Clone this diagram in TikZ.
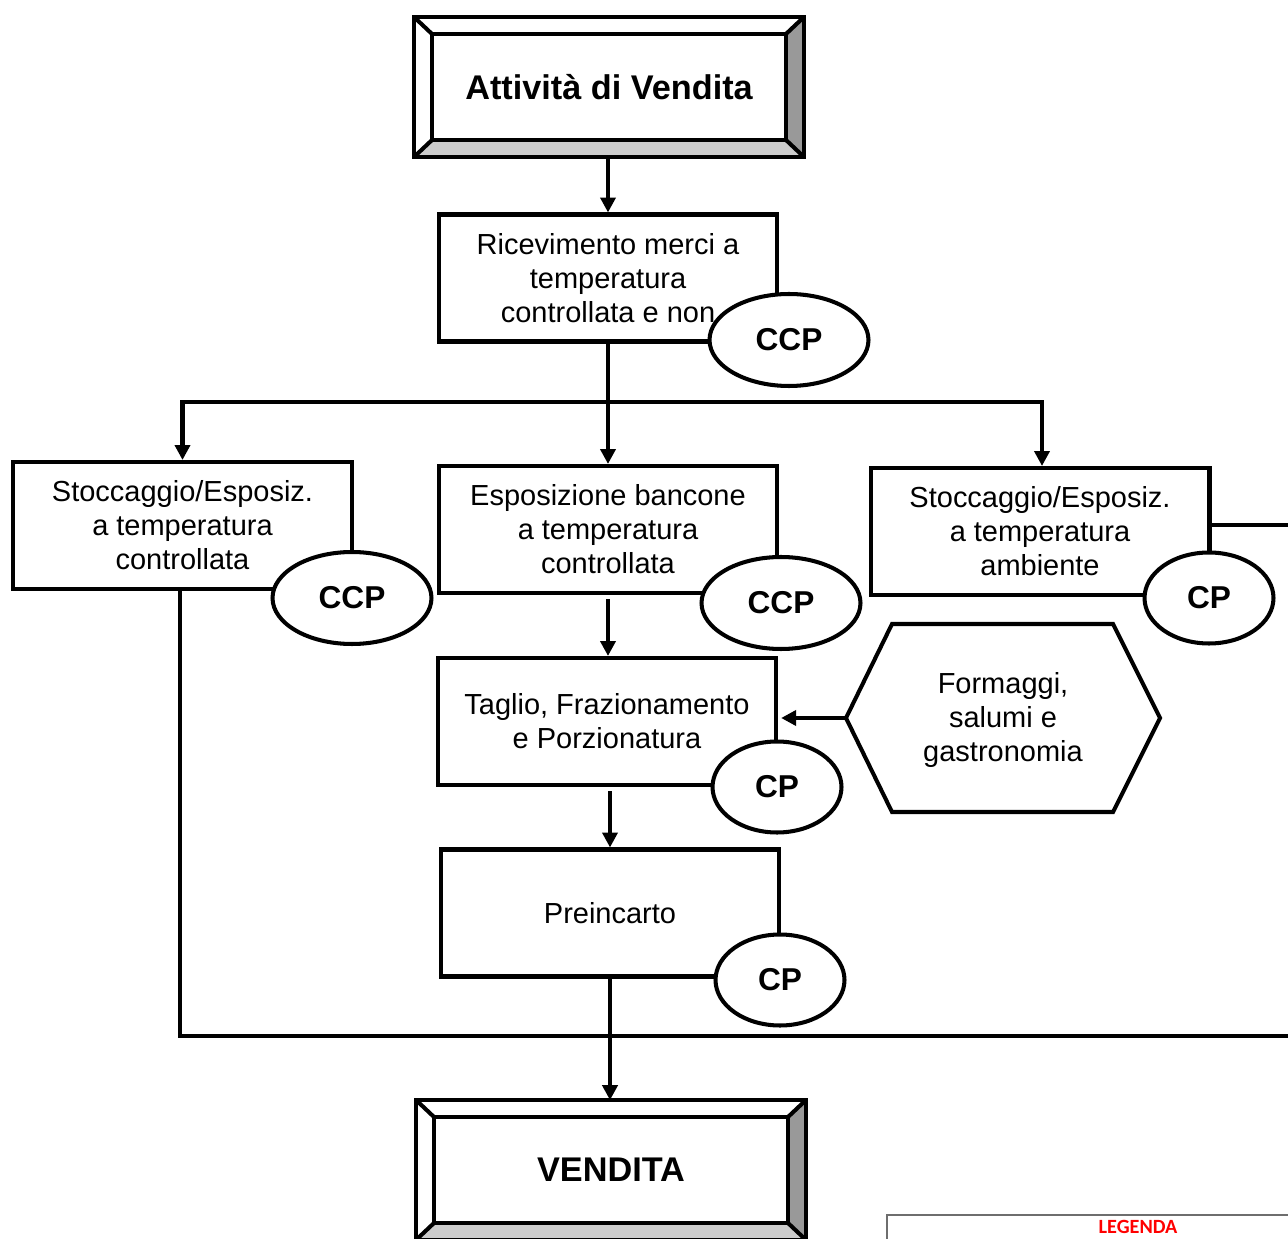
\documentclass[tikz,border=0pt]{standalone}
\usepackage{fontspec}
\setmainfont{Liberation Sans}
\newfontfamily\legendfont{Carlito}
\usetikzlibrary{arrows.meta,shapes.geometric,calc}
\definecolor{bevelgray}{RGB}{153,153,153}
\definecolor{bevellight}{RGB}{204,204,204}
\definecolor{legendred}{RGB}{255,0,0}
\definecolor{legendgray}{RGB}{110,110,110}
\tikzset{
  wire/.style={line width=2.3pt, black},
  arrow/.style={wire, -{Triangle[length=8.5pt,width=8.5pt]}},
  box/.style={rectangle, draw, wire, fill=white, minimum width=6.78cm, minimum height=2.54cm,
              align=center, font=\fontsize{16.5}{19.4}\selectfont},
  bevelbox/.style={rectangle, minimum width=7.78cm, minimum height=2.78cm,
              align=center, font=\fontsize{19.5}{23}\selectfont\bfseries},
  ccp/.style={ellipse, draw, wire, fill=white, minimum width=3.18cm, minimum height=1.84cm,
              inner sep=0pt, font=\fontsize{18}{21}\selectfont\bfseries},
  cp/.style={ccp, minimum width=2.58cm, minimum height=1.82cm},
  plain/.style={align=center, font=\fontsize{16.5}{19.4}\selectfont},
  legendtext/.style={font=\legendfont\fontsize{11.5}{13}\selectfont\bfseries, text=legendred},
}

\begin{document}
\begin{tikzpicture}[x=0.02cm, y=-0.02cm]
\path[use as bounding box, clip] (0,0) rectangle (1288,1239);

% main column
\node[bevelbox] (start) at (609,87) {Attività di Vendita};
\node[box] (rec) at (608,278) {Ricevimento merci a\\temperatura\\controllata e non};
\node[box] (stoc) at (182.5,525.5) {Stoccaggio/Esposiz.\\a temperatura\\controllata};
\node[box] (esp) at (608,529.5) {Esposizione bancone\\a temperatura\\controllata};
\node[box] (amb) at (1040,531.5) {Stoccaggio/Esposiz.\\a temperatura\\ambiente};
\node[box] (tag) at (607,721.5) {Taglio, Frazionamento\\e Porzionatura};
\node[box] (pre) at (610,913) {Preincarto};
\node[bevelbox] (vend) at (611,1170) {VENDITA};

% control points
\node[ccp] (ccp1) at (789,340) {CCP};
\node[ccp] (ccp2) at (352,598) {CCP};
\node[ccp] (ccp3) at (781,603) {CCP};
\node[cp] (cp1) at (1209,598) {CP};
\node[cp] (cp2) at (777,787) {CP};
\node[cp] (cp3) at (780,980) {CP};

% bevelled frames
\foreach \n in {start,vend}{
  \path (\n.north west) ++(18,17) coordinate (\n-inw)
        (\n.north east) ++(-18,17) coordinate (\n-ine)
        (\n.south east) ++(-18,-17) coordinate (\n-ise)
        (\n.south west) ++(18,-17) coordinate (\n-isw);
  \fill[bevelgray] (\n.north east) -- (\n.south east) -- (\n-ise) -- (\n-ine) -- cycle;
  \fill[bevellight] (\n.south west) -- (\n.south east) -- (\n-ise) -- (\n-isw) -- cycle;
  \draw[wire] (\n.north west) rectangle (\n.south east);
  \draw[wire] (\n-inw) rectangle (\n-ise);
  \draw[wire] (\n.north west) -- (\n-inw) (\n.north east) -- (\n-ine)
              (\n.south east) -- (\n-ise) (\n.south west) -- (\n-isw);
}

% hexagon
\node[plain] (hex) at (1003,720) {Formaggi,\\salumi e\\gastronomia};
\coordinate (hexw) at (846,718);
\draw[wire] (892,624) -- (1113,624) -- (1160,718) -- (1113,812) -- (892,812) -- (hexw) -- cycle;

% flow
\coordinate (split) at (608,402);
\coordinate (merge) at (1310,1036);
\draw[arrow] (start.south -| rec.north) -- (rec.north);
\draw[arrow] (rec.south) -- (rec.south |- esp.north);
\draw[arrow] (split) -| (stoc.north);
\draw[arrow] (split) -| ([xshift=0.04cm]amb.north);
\draw[arrow] ([yshift=-0.08cm]esp.south) -- (esp.south |- tag.north);
\draw[arrow] ([xshift=0.06cm,yshift=-0.08cm]tag.south) -- ([xshift=0.06cm]tag.south |- pre.north);
\draw[arrow, shorten >=1.5pt] (hexw) -- (hexw -| tag.east);
\draw[arrow] (pre.south) -- (pre.south |- vend.north);
\draw[wire] ([xshift=-0.05cm]stoc.south) |- (merge);
\draw[wire] ([yshift=0.13cm]amb.east) -| (merge);

% legend
\draw[legendgray, line width=0.8pt] (887,1215) rectangle (1320,1260);
\node[legendtext] (legenda) at (1138,1227) {LEGENDA};
\end{tikzpicture}
\end{document}
